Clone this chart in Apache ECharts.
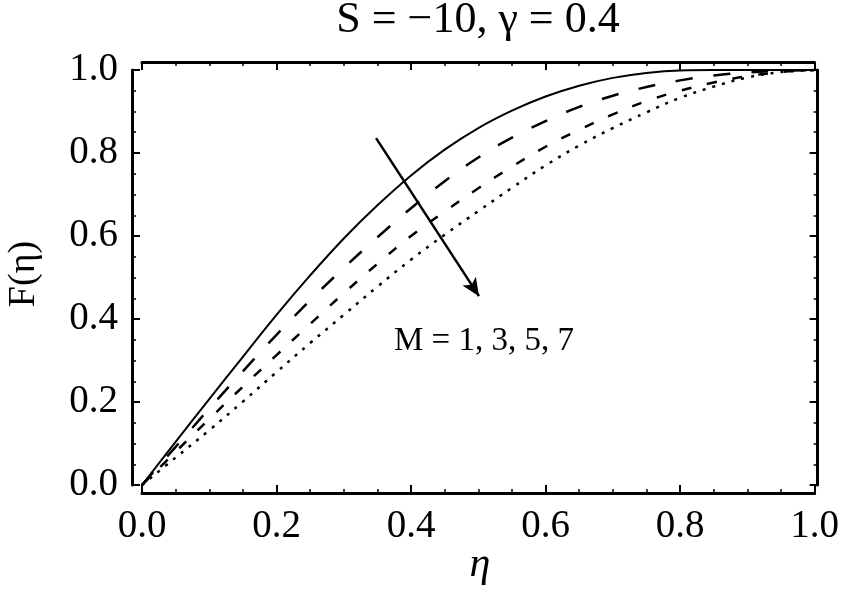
<!DOCTYPE html>
<html>
<head>
<meta charset="utf-8">
<script src="https://cdn.jsdelivr.net/npm/echarts@6/dist/echarts.min.js"></script>
<style>html,body{margin:0;padding:0;background:#fff;}#c{width:842px;height:592px;}</style>
</head>
<body>
<div id="c"></div>
<script>
const eta = [0, 0.05, 0.1, 0.15, 0.2, 0.25, 0.3, 0.35, 0.4, 0.45, 0.5, 0.55, 0.6, 0.65, 0.7, 0.75, 0.8, 0.85, 0.9, 0.95, 1.0];
const F_M1 = [0, 0.104, 0.207, 0.309, 0.41, 0.505, 0.594, 0.674, 0.746, 0.808, 0.86, 0.902, 0.936, 0.962, 0.981, 0.993, 0.999, 1.0, 1.0, 1.0, 1.0];
const F_M3 = [0, 0.092, 0.184, 0.274, 0.362, 0.445, 0.523, 0.597, 0.667, 0.732, 0.789, 0.837, 0.877, 0.911, 0.938, 0.959, 0.975, 0.987, 0.994, 0.998, 1.0];
const F_M5 = [0, 0.08, 0.159, 0.237, 0.313, 0.388, 0.462, 0.533, 0.6, 0.659, 0.715, 0.767, 0.815, 0.856, 0.893, 0.925, 0.95, 0.97, 0.985, 0.995, 1.0];
const F_M7 = [0, 0.066, 0.132, 0.201, 0.272, 0.342, 0.41, 0.478, 0.543, 0.603, 0.66, 0.716, 0.77, 0.818, 0.86, 0.898, 0.933, 0.96, 0.982, 0.995, 1.0];
const titleText = 'S = \u221210, \u03b3 = 0.4';
const annText = 'M = 1, 3, 5, 7';
const arrowFrom = [0.348, 0.836];
const arrowTo = [0.501, 0.455];

const FONT = '"Liberation Serif", "DejaVu Serif", serif';
function pairs(ys){ return eta.map((x,i)=>[x, ys[i]]); }

const chart = echarts.init(document.getElementById('c'), null, {renderer:'canvas'});
const tickCommon = () => ({
  axisLine:{show:true, onZero:false, lineStyle:{color:'#000', width:3}},
  axisTick:{show:true, inside:true, length:8, lineStyle:{color:'#000', width:2}},
  minorTick:{show:true, splitNumber:4, length:4, lineStyle:{color:'#000', width:1.5}},
  splitLine:{show:false}, minorSplitLine:{show:false}
});
const lineSeries = (name, ys, type, w) => ({
  name, type:'line', data: pairs(ys), showSymbol:false, smooth:0.4,
  lineStyle:{color:'#000', width:w, type: type}, animation:false, z:3
});
chart.setOption({
  backgroundColor:'#fff',
  animation:false,
  grid:{left:142, right:22, top:70, bottom:107},
  xAxis:[
    Object.assign({type:'value', position:'bottom', min:0, max:1, interval:0.2, offset:8,
      axisLabel:{show:true, margin:14, fontFamily:FONT, fontSize:39, color:'#000', formatter:v=>v.toFixed(1)}}, tickCommon()),
    Object.assign({type:'value', position:'top', min:0, max:1, interval:0.2, offset:8,
      axisLabel:{show:false}}, tickCommon())
  ],
  yAxis:[
    Object.assign({type:'value', position:'left', min:0, max:1, interval:0.2, offset:10,
      axisLabel:{show:true, margin:14, fontFamily:FONT, fontSize:39, color:'#000', formatter:v=>v.toFixed(1)}}, tickCommon()),
    Object.assign({type:'value', position:'right', min:0, max:1, interval:0.2, offset:3,
      axisLabel:{show:false}}, tickCommon())
  ],
  series:[
    Object.assign(lineSeries('M=1', F_M1, 'solid', 2), {
      markLine:{
        silent:true, symbol:['none','arrow'], symbolSize:[12,18], animation:false,
        label:{show:false},
        lineStyle:{color:'#000', width:2.5, type:'solid'},
        data:[[{coord:arrowFrom},{coord:arrowTo}]]
      }
    }),
    lineSeries('M=3', F_M3, [17,21], 2.5),
    lineSeries('M=5', F_M5, [10,16], 2.5),
    lineSeries('M=7', F_M7, [3,7], 2.5)
  ],
  graphic:[
    {type:'text', x:478, y:20, style:{text:titleText, font:'44px '+FONT, fill:'#000', textAlign:'center', textVerticalAlign:'middle'}},
    {type:'text', x:484, y:341, style:{text:annText, font:'33px '+FONT, fill:'#000', textAlign:'center', textVerticalAlign:'middle'}},
    {type:'text', x:480, y:565, style:{text:'\u03b7', font:'italic 42px '+FONT, fill:'#000', textAlign:'center', textVerticalAlign:'middle'}},
    {type:'text', x:24, y:274, rotation:Math.PI/2, style:{text:'F(\u03b7)', font:'38px '+FONT, fill:'#000', textAlign:'center', textVerticalAlign:'middle'}}
  ]
});
</script>
</body>
</html>
